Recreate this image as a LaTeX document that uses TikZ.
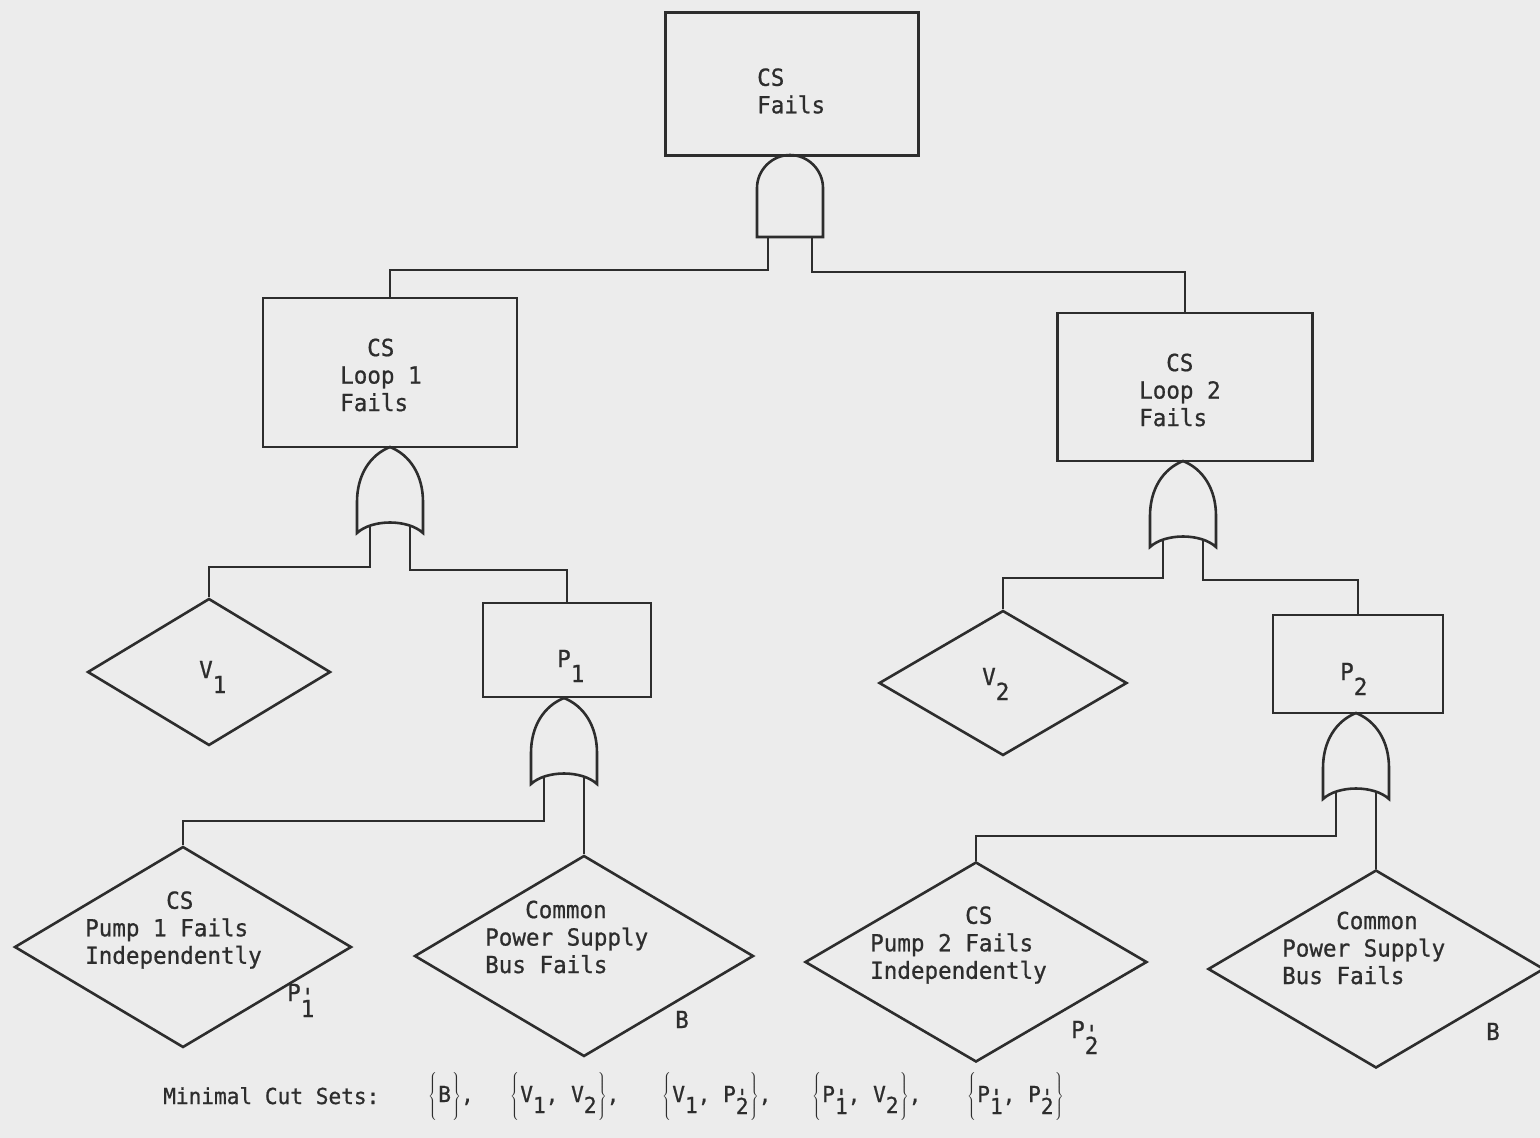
\documentclass[tikz,border=0pt]{standalone}
\usepackage{fontspec}
\usetikzlibrary{shapes.geometric}
\newfontfamily\typefont[FakeStretch=0.96,FakeBold=0.8]{DejaVu Sans Mono}
\definecolor{ink}{RGB}{45,45,45}
\definecolor{paper}{RGB}{236,236,236}
% typed subscripts and primed subscripts
\newcommand\lowsub[1]{\raisebox{-15pt}{#1}}
\newcommand\Pprime[1]{P\rlap{\raisebox{-4pt}{'}}\raisebox{-16pt}{#1}}
\newcommand\csub[1]{\raisebox{-11pt}{#1}}
\newcommand\cPprime[1]{P\rlap{\raisebox{-3pt}{'}}\raisebox{-12pt}{#1}}
% tall typed braces around a cut set
\newcommand\cset[1]{$\left\{\vrule height 25pt depth 21pt width 0pt\right.$#1$\left.\vrule height 25pt depth 21pt width 0pt\right\}$}
\tikzset{
  evt/.style={draw=ink, line width=2.6pt, rectangle, inner sep=0pt},
  dia/.style={draw=ink, line width=2.6pt, diamond, inner sep=0pt},
  wire/.style={draw=ink, line width=2.6pt, line join=miter},
  lbl/.style={text=ink, inner sep=0pt, align=left,
    font=\typefont\fontsize{23.5}{27.5}\selectfont},
  cut/.style={text=ink, inner sep=0pt,
    font=\typefont\fontsize{22}{26}\selectfont},
  orgate/.pic={
    \draw[wire] (0,0) .. controls (-20,8) and (-33,28) .. (-33,55) -- (-33,86)
      .. controls (-18,72) and (18,72) .. (33,86) -- (33,55)
      .. controls (33,28) and (20,8) .. (0,0) -- cycle;
    \coordinate (-inL) at (-20,78);
    \coordinate (-inR) at (20,78);
  },
  andgate/.pic={
    \draw[wire] (-33,82) -- (-33,33) .. controls (-33,15) and (-18,0) .. (0,0)
      .. controls (18,0) and (33,15) .. (33,33) -- (33,82) -- cycle;
    \coordinate (-inL) at (-22,82);
    \coordinate (-inR) at (22,82);
  }
}
\begin{document}
\begin{tikzpicture}[x=1pt,y=-1pt]
\fill[paper] (0,0) rectangle (1540,1138);
\useasboundingbox (0,0) rectangle (1540,1138);

% events
\node[evt, minimum width=253, minimum height=143] (top) at (792,84) {};
\node[evt, minimum width=254, minimum height=149] (loop1) at (390,372.5) {};
\node[evt, minimum width=255, minimum height=148] (loop2) at (1185,387) {};
\node[evt, minimum width=168, minimum height=94] (p1) at (567,650) {};
\node[evt, minimum width=170, minimum height=98] (p2) at (1358,664) {};

% basic events
\node[dia, minimum width=243, minimum height=147] (v1) at (209,672) {};
\node[dia, minimum width=248, minimum height=145] (v2) at (1003,683) {};
\node[dia, minimum width=337, minimum height=201] (pump1) at (183,947) {};
\node[dia, minimum width=339, minimum height=201] (bus1) at (584,956) {};
\node[dia, minimum width=342, minimum height=200] (pump2) at (976,962) {};
\node[dia, minimum width=336, minimum height=198] (bus2) at (1376,969) {};

% gates
\pic (and) at (790,155) {andgate};
\pic (or1) at (390,447) {orgate};
\pic (or2) at (564,698) {orgate};
\pic (or3) at (1183,461) {orgate};
\pic (or4) at (1356,713) {orgate};

% connectors
\draw[wire] (and-inL) -- ++(0,33) -| (loop1.north);
\draw[wire] (and-inR) -- ++(0,35) -| (loop2.north);
\draw[wire] (or1-inL) -- ++(0,42) -| (v1.north);
\draw[wire] (or1-inR) -- ++(0,45) -| (p1.north);
\draw[wire] (or2-inL) -- ++(0,45) -| (pump1.north);
\draw[wire] (or2-inR) -- (bus1.north);
\draw[wire] (or3-inL) -- ++(0,39) -| (v2.north);
\draw[wire] (or3-inR) -- ++(0,41) -| (p2.north);
\draw[wire] (or4-inL) -- ++(0,45) -| (pump2.north);
\draw[wire] (or4-inR) -- (bus2.north);

% event texts
\node[lbl, anchor=west] (ttop) at (757,91) {CS\\Fails};
\node[lbl, anchor=west] (tloop1) at (340,375) {\hspace*{27pt}CS\\Loop 1\\Fails};
\node[lbl, anchor=west] (tloop2) at (1139,390) {\hspace*{27pt}CS\\Loop 2\\Fails};
\node[lbl, anchor=base west] (tp1) at (557,667) {P\lowsub{1}};
\node[lbl, anchor=base west] (tp2) at (1340,680) {P\lowsub{2}};
\node[lbl, anchor=base west] (tv1) at (199,678) {V\lowsub{1}};
\node[lbl, anchor=base west] (tv2) at (982,685) {V\lowsub{2}};
\node[lbl, anchor=west] (tpump1) at (85,930) {\hspace*{81pt}CS\\Pump 1 Fails\\Independently};
\node[lbl, anchor=west] (tbus1) at (485,937) {\hspace*{40pt}Common\\Power Supply\\Bus Fails};
\node[lbl, anchor=west] (tpump2) at (870,945) {\hspace*{95pt}CS\\Pump 2 Fails\\Independently};
\node[lbl, anchor=west] (tbus2) at (1282,948) {\hspace*{54pt}Common\\Power Supply\\Bus Fails};

% basic event identifiers
\node[lbl, anchor=base west] (id1) at (287,1001) {\Pprime{1}};
\node[lbl, anchor=base west] (id2) at (675,1028) {B};
\node[lbl, anchor=base west] (id3) at (1071,1038) {\Pprime{2}};
\node[lbl, anchor=base west] (id4) at (1486,1040) {B};

% minimal cut sets
\node[cut, anchor=base west] (mcs) at (163,1104) {Minimal Cut Sets:};
\node[cut, anchor=base west] (s1) at (428,1102) {\cset{B},};
\node[cut, anchor=base west] (s2) at (510,1102) {\cset{V\csub{1}, V\csub{2}},};
\node[cut, anchor=base west] (s3) at (662,1102) {\cset{V\csub{1}, \cPprime{2}},};
\node[cut, anchor=base west] (s4) at (812,1102) {\cset{\cPprime{1}, V\csub{2}},};
\node[cut, anchor=base west] (s5) at (967,1102) {\cset{\cPprime{1}, \cPprime{2}}};
\end{tikzpicture}
\end{document}
